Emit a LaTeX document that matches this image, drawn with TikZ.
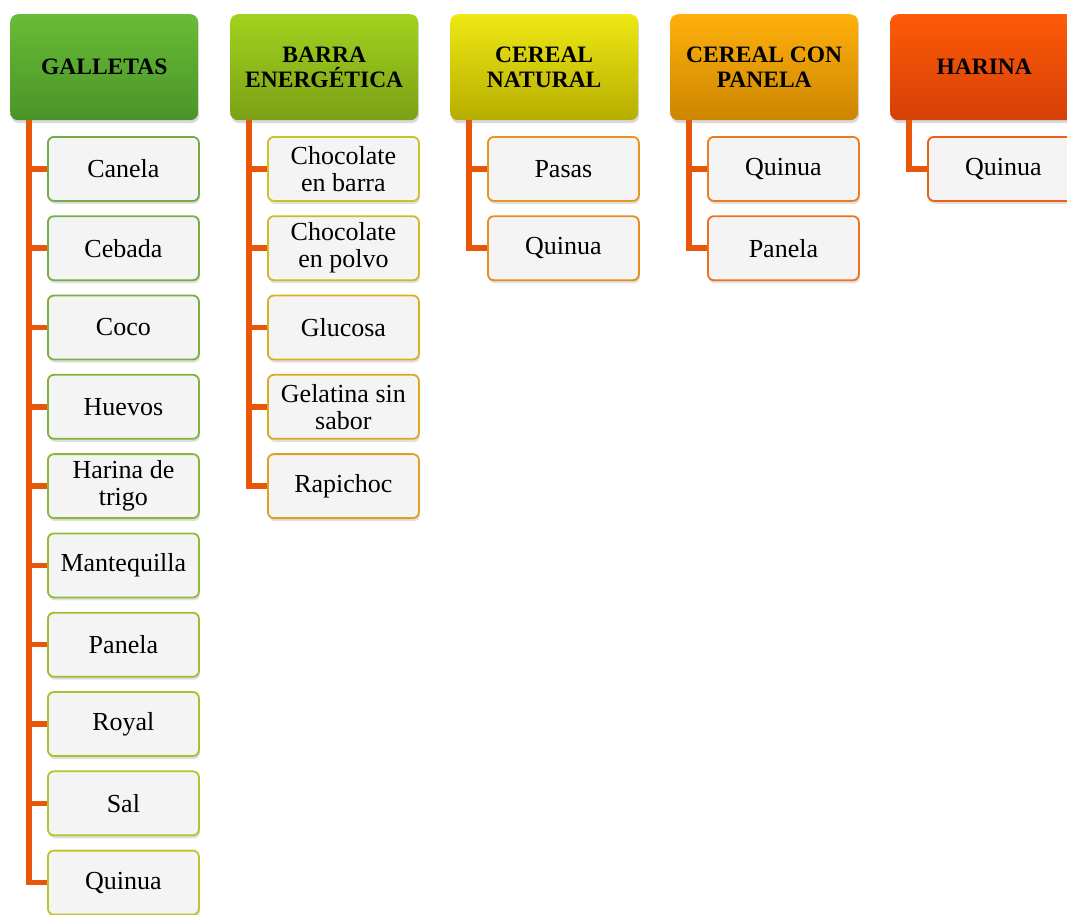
\documentclass[tikz,border=0pt]{standalone}
\usepackage{fontspec}
\setmainfont{Liberation Serif}
\usetikzlibrary{shadows}
\definecolor{conncol}{HTML}{E8560A}
\definecolor{itemfill}{HTML}{F4F4F4}
% header gradients
\definecolor{h1t}{HTML}{68BC36}\definecolor{h1b}{HTML}{4A9428}
\definecolor{h2t}{HTML}{A2D21E}\definecolor{h2b}{HTML}{7BA016}
\definecolor{h3t}{HTML}{EEE814}\definecolor{h3b}{HTML}{B6AE00}
\definecolor{h4t}{HTML}{FFB00C}\definecolor{h4b}{HTML}{CC8600}
\definecolor{h5t}{HTML}{FF5A08}\definecolor{h5b}{HTML}{D44006}
% item borders
\definecolor{ga}{HTML}{70AD47}\definecolor{gb}{HTML}{74AF43}
\definecolor{gc}{HTML}{79B13F}\definecolor{gd}{HTML}{7FB33C}
\definecolor{ge}{HTML}{88B739}\definecolor{gf}{HTML}{92BB36}
\definecolor{gg}{HTML}{9CBE33}\definecolor{gh}{HTML}{A6C130}
\definecolor{gi}{HTML}{B3C42D}\definecolor{gj}{HTML}{C0C42A}
\definecolor{ba}{HTML}{CCC226}\definecolor{bb}{HTML}{D2BA24}
\definecolor{bc}{HTML}{D6B222}\definecolor{bd}{HTML}{DAA922}
\definecolor{be}{HTML}{DEA020}
\definecolor{ca}{HTML}{E8941E}\definecolor{cb}{HTML}{E88C1E}
\definecolor{pa}{HTML}{EE7A1C}\definecolor{pb}{HTML}{EE721C}
\definecolor{ha}{HTML}{F05E16}
\begin{document}
\begin{tikzpicture}[x=1pt,y=-1pt,
  hdr/.style={anchor=north west, rounded corners=8pt, minimum width=188pt,
    minimum height=106pt, inner sep=0pt, align=center,
    font=\fontsize{23.5}{25}\selectfont\bfseries,
    drop shadow={opacity=0.3, shadow xshift=1pt, shadow yshift=-3pt}},
  item/.style={anchor=north west, rounded corners=6pt, minimum width=151pt,
    minimum height=64pt, inner sep=0pt, align=center, fill=itemfill,
    line width=1.8pt, font=\fontsize{26}{27}\selectfont,
    drop shadow={opacity=0.25, shadow xshift=1pt, shadow yshift=-3pt}},
  conn/.style={draw=conncol, line width=5.5pt}]
\useasboundingbox (0,0) rectangle (1067,914);
\clip (0,0) rectangle (1067,914);

\node[hdr, top color=h1t, bottom color=h1b] (h1) at (10,14) {GALLETAS};
\node[hdr, top color=h2t, bottom color=h2b] (h2) at (230,14) {BARRA\\ENERGÉTICA};
\node[hdr, top color=h3t, bottom color=h3b] (h3) at (450,14) {CEREAL\\NATURAL};
\node[hdr, top color=h4t, bottom color=h4b] (h4) at (670,14) {CEREAL CON\\PANELA};
\node[hdr, top color=h5t, bottom color=h5b] (h5) at (890,14) {HARINA};

\foreach [count=\k] \t/\c in {Canela/ga, Cebada/gb, Coco/gc, Huevos/gd,
    {Harina de\\trigo}/ge, Mantequilla/gf, Panela/gg, Royal/gh, Sal/gi, Quinua/gj}{
  \node[item, draw=\c] (g\k) at (47,{136+79.3*(\k-1)}) {\t};
  \draw[conn] ([xshift=19pt]h1.south west) |- (g\k.west);
}
\foreach [count=\k] \t/\c in {{Chocolate\\en barra}/ba, {Chocolate\\en polvo}/bb,
    Glucosa/bc, {Gelatina sin\\sabor}/bd, Rapichoc/be}{
  \node[item, draw=\c] (b\k) at (267,{136+79.3*(\k-1)}) {\t};
  \draw[conn] ([xshift=19pt]h2.south west) |- (b\k.west);
}
\foreach [count=\k] \t/\c in {Pasas/ca, Quinua/cb}{
  \node[item, draw=\c] (n\k) at (487,{136+79.3*(\k-1)}) {\t};
  \draw[conn] ([xshift=19pt]h3.south west) |- (n\k.west);
}
\foreach [count=\k] \t/\c in {Quinua/pa, Panela/pb}{
  \node[item, draw=\c] (p\k) at (707,{136+79.3*(\k-1)}) {\t};
  \draw[conn] ([xshift=19pt]h4.south west) |- (p\k.west);
}
\node[item, draw=ha] (r1) at (927,136) {Quinua};
\draw[conn] ([xshift=19pt]h5.south west) |- (r1.west);
\end{tikzpicture}
\end{document}
